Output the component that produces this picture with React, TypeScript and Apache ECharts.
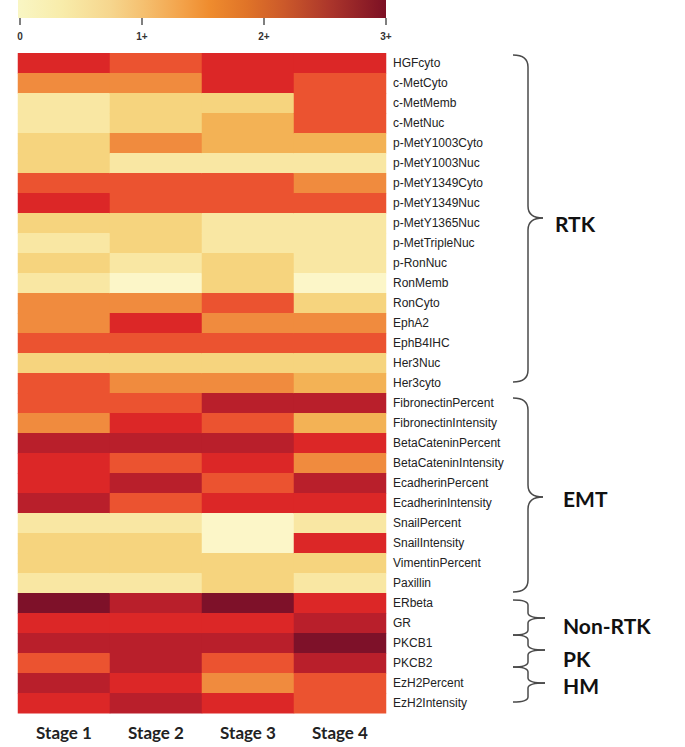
import React, { useEffect, useRef } from "react";
import * as echarts from "echarts";

const stages = ["Stage 1", "Stage 2", "Stage 3", "Stage 4"];
const markers = [
  "HGFcyto", "c-MetCyto", "c-MetMemb", "c-MetNuc", "p-MetY1003Cyto", "p-MetY1003Nuc",
  "p-MetY1349Cyto", "p-MetY1349Nuc", "p-MetY1365Nuc", "p-MetTripleNuc", "p-RonNuc",
  "RonMemb", "RonCyto", "EphA2", "EphB4IHC", "Her3Nuc", "Her3cyto",
  "FibronectinPercent", "FibronectinIntensity", "BetaCateninPercent", "BetaCateninIntensity",
  "EcadherinPercent", "EcadherinIntensity", "SnailPercent", "SnailIntensity",
  "VimentinPercent", "Paxillin", "ERbeta", "GR", "PKCB1", "PKCB2", "EzH2Percent", "EzH2Intensity",
];

// Scores (0 .. 3+)
const stage1 = [2.25, 1.5, 0.4, 0.4, 0.75, 0.75, 1.9, 2.25, 0.75, 0.4, 0.75, 0.4, 1.5, 1.5, 1.9, 0.75, 1.9,
  1.9, 1.5, 2.6, 2.25, 2.25, 2.6, 0.4, 0.75, 0.75, 0.4, 3.0, 2.25, 2.6, 1.9, 2.6, 2.25];
const stage2 = [1.9, 1.5, 0.75, 0.75, 1.5, 0.4, 1.9, 1.9, 0.75, 0.75, 0.4, 0.0, 1.5, 2.25, 1.9, 0.75, 1.5,
  1.9, 2.25, 2.6, 1.9, 2.6, 1.9, 0.4, 0.75, 0.75, 0.4, 2.6, 2.25, 2.6, 2.6, 2.25, 2.6];
const stage3 = [2.25, 2.25, 0.75, 1.1, 1.1, 0.4, 1.9, 1.9, 0.4, 0.4, 0.75, 0.75, 1.9, 1.5, 1.9, 0.75, 1.5,
  2.6, 1.9, 2.6, 2.25, 1.9, 2.25, 0.0, 0.0, 0.75, 0.75, 3.0, 2.25, 2.6, 1.9, 1.5, 2.25];
const stage4 = [2.25, 1.9, 1.9, 1.9, 1.1, 0.4, 1.5, 1.9, 0.4, 0.4, 0.4, 0.0, 0.75, 1.5, 1.9, 0.75, 1.1,
  2.6, 1.1, 2.25, 1.5, 2.6, 2.25, 0.4, 2.25, 0.75, 0.4, 2.25, 2.6, 3.0, 2.6, 1.9, 1.9];

const scaleTicks = ["0", "1+", "2+", "3+"];

const cellColors = ["#fcf6c8", "#f9e8a6", "#f6d47e", "#f3b052", "#f08b3e", "#ec5631", "#dc2727", "#b61e2b", "#7e1129"];

const groups = [
  { name: "RTK", top: 55, mid: 218, bottom: 382, r: 12, tip: 543, lx: 555, ly: 223 },
  { name: "EMT", top: 398, mid: 497, bottom: 592, r: 12, tip: 543, lx: 563, ly: 498 },
  { name: "Non-RTK", top: 600, mid: 618, bottom: 635, r: 5, tip: 545, lx: 563, ly: 625 },
  { name: "PK", top: 635, mid: 650, bottom: 667, r: 5, tip: 545, lx: 563, ly: 658 },
  { name: "HM", top: 667, mid: 683, bottom: 702, r: 5, tip: 545, lx: 563, ly: 685 },
];

function brace(g: any) {
  const x0 = 513;
  const xm = 528;
  const st = { stroke: "#4a4a4a", lineWidth: 1.5, fill: "none" };
  const els: any[] = [
    { type: "bezierCurve", shape: { x1: x0, y1: g.top, cpx1: xm, cpy1: g.top, x2: xm, y2: g.top + g.r }, style: st },
    { type: "line", shape: { x1: xm, y1: g.top + g.r, x2: xm, y2: g.mid - g.r }, style: st },
    { type: "bezierCurve", shape: { x1: xm, y1: g.mid - g.r, cpx1: xm, cpy1: g.mid, x2: g.tip, y2: g.mid }, style: st },
    { type: "bezierCurve", shape: { x1: g.tip, y1: g.mid, cpx1: xm, cpy1: g.mid, x2: xm, y2: g.mid + g.r }, style: st },
    { type: "line", shape: { x1: xm, y1: g.mid + g.r, x2: xm, y2: g.bottom - g.r }, style: st },
    { type: "bezierCurve", shape: { x1: xm, y1: g.bottom - g.r, cpx1: xm, cpy1: g.bottom, x2: x0, y2: g.bottom }, style: st },
    {
      type: "text", x: g.lx, y: g.ly,
      style: { text: g.name, fontFamily: "Lato", fontWeight: "bold", fontSize: 21, fill: "#111", textVerticalAlign: "middle", verticalAlign: "middle" },
    },
  ];
  return { type: "group", children: els };
}

export default function App() {
  const ref = useRef<HTMLDivElement>(null);
  useEffect(() => {
    if (!ref.current) return;
    const chart = echarts.init(ref.current, null, { renderer: "svg" });
    const cols = [stage1, stage2, stage3, stage4];
    const data: any[] = [];
    cols.forEach((col, x) => col.forEach((v, y) => data.push([x, y, v])));
    chart.setOption({
      animation: false,
      backgroundColor: "#ffffff",
      grid: [
        { left: 18, top: 53.3, width: 368, height: 660 },
        { left: 20, top: 0, width: 366, height: 18 },
      ],
      xAxis: [
        {
          type: "category", data: stages, gridIndex: 0, position: "bottom",
          axisLine: { show: false }, axisTick: { show: false }, splitLine: { show: false },
          axisLabel: { margin: 11, fontSize: 17, fontWeight: "bold", fontFamily: "Lato", color: "#222" },
        },
        {
          type: "value", gridIndex: 1, min: 0, max: 3, interval: 1, position: "bottom", offset: 3,
          axisLine: { show: false }, splitLine: { show: false },
          axisTick: { show: true, length: 7, lineStyle: { color: "#555", width: 1.5 } },
          axisLabel: {
            margin: 10, fontSize: 10, fontWeight: "bold", fontFamily: "Liberation Sans", color: "#333",
            formatter: (v: number) => scaleTicks[Math.round(v)],
          },
        },
      ],
      yAxis: [
        {
          type: "category", data: markers, gridIndex: 0, inverse: true, position: "right",
          axisLine: { show: false }, axisTick: { show: false }, splitLine: { show: false },
          axisLabel: { interval: 0, margin: 7, fontSize: 12, fontFamily: "Liberation Sans", color: "#222" },
        },
        { type: "value", gridIndex: 1, show: false, min: 0, max: 1 },
      ],
      visualMap: {
        show: false, type: "continuous", min: 0, max: 3, dimension: 2, seriesIndex: 0,
        inRange: { color: cellColors },
      },
      graphic: [
        {
          type: "rect", shape: { x: 18, y: 0, width: 368, height: 18 }, silent: true,
          style: {
            fill: new echarts.graphic.LinearGradient(0, 0, 1, 0, [
              { offset: 0, color: "#f9f6c4" },
              { offset: 0.12, color: "#f8ecaa" },
              { offset: 0.25, color: "#f6d68e" },
              { offset: 0.34, color: "#f5c070" },
              { offset: 0.45, color: "#f3a148" },
              { offset: 0.52, color: "#ef8c2e" },
              { offset: 0.62, color: "#e07428" },
              { offset: 0.72, color: "#cc5a2a" },
              { offset: 0.85, color: "#ab352b" },
              { offset: 1, color: "#7c1024" },
            ]),
          },
        },
        ...groups.map(brace),
      ],
      series: [
        {
          type: "heatmap", xAxisIndex: 0, yAxisIndex: 0, data,
          itemStyle: { borderWidth: 0 },
          emphasis: { disabled: true },
        },
      ],
    });
    return () => chart.dispose();
  }, []);
  return <div ref={ref} style={{ position: "absolute", left: 0, top: 0, width: 685, height: 747 }} />;
}
